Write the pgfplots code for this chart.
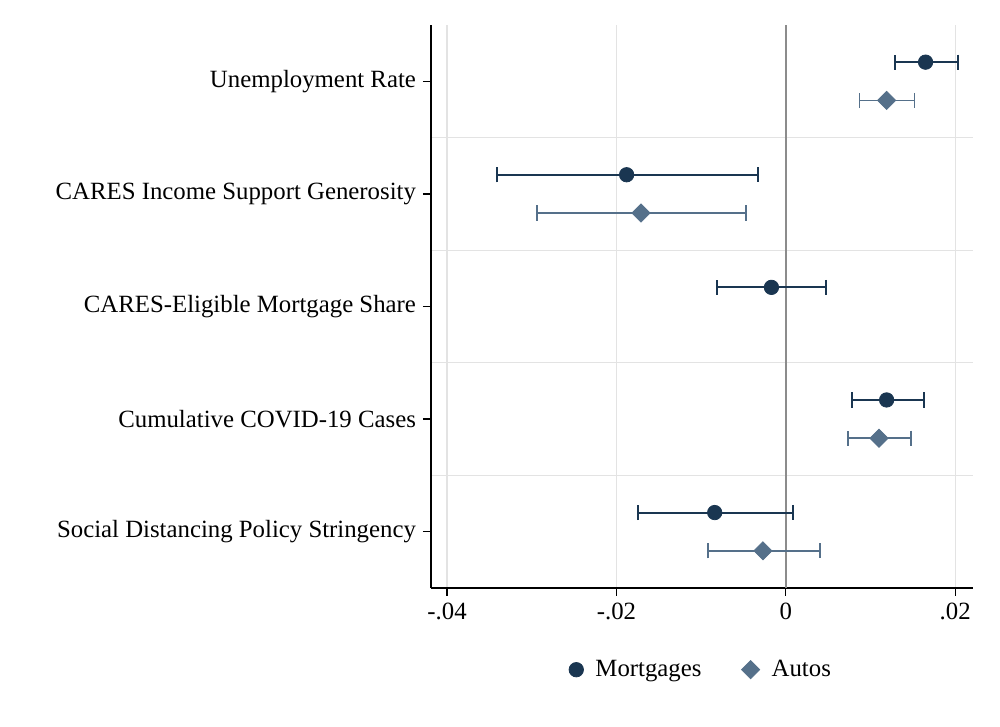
\documentclass[border=0pt]{standalone}
\usepackage{fontspec}
\setmainfont{Liberation Serif}
\usepackage{pgfplots}
\pgfplotsset{compat=1.18}
\usepackage{pgfplotstable}

\definecolor{mortc}{HTML}{1A3651}
\definecolor{autoc}{HTML}{55708A}
\definecolor{gridc}{HTML}{E3E3E3}
\definecolor{zeroc}{HTML}{8C8C8C}

% x = coefficient, y = row, ep/em = distance to upper/lower CI bound
\pgfplotstableread{
x       y     ep      em
0.0165  5.17  0.0038  0.0036
-0.0188 4.17  0.0155  0.0153
-0.0017 3.17  0.0065  0.0064
0.0119  2.17  0.0044  0.0041
-0.0084 1.17  0.0092  0.0091
}\mortgages

\pgfplotstableread{
x       y     ep      em
0.0119  4.83  0.0033  0.0032
-0.0171 3.83  0.0124  0.0123
0.0110  1.83  0.0038  0.0037
-0.0027 0.83  0.0067  0.0065
}\autos

\begin{document}
\begin{tikzpicture}[font=\fontsize{12.4}{15}\selectfont]
\begin{axis}[
  at={(0,0)}, anchor=south west,
  scale only axis,
  width=271pt, height=281.5pt,
  xmin=-0.0419, xmax=0.0221,
  ymin=0.5, ymax=5.5,
  axis x line*=bottom, axis y line*=left,
  axis line style={line width=0.8pt},
  xtick={-0.04,-0.02,0,0.02},
  xticklabels={-.04,-.02,0,.02},
  ytick={1,2,3,4,5},
  yticklabels={Social Distancing Policy Stringency, Cumulative COVID-19 Cases, CARES-Eligible Mortgage Share, CARES Income Support Generosity, Unemployment Rate},
  minor ytick={1.5,2.5,3.5,4.5},
  ymajorgrids=false, xmajorgrids=true, yminorgrids=true,
  major grid style={gridc, line width=0.6pt},
  minor grid style={gridc, line width=0.6pt},
  minor tick length=0pt,
  tick align=outside, major tick length=4pt,
  tick style={black, line width=0.6pt},
  scaled x ticks=false,
  /pgf/number format/assume math mode=true,
  tick label style={font=\fontsize{12.4}{15}\selectfont},
  legend style={at={(0.5,-0.113)}, anchor=north, draw=none, legend columns=2,
    font=\fontsize{12.4}{15}\selectfont,
    /tikz/every odd column/.append style={column sep=4pt},
    /tikz/every even column/.append style={column sep=18pt}},
  legend cell align=left,
  clip=false,
]
\addplot[forget plot, zeroc, line width=0.9pt] coordinates {(0,0.5) (0,5.5)};
\addplot[only marks, mark=*, mark size=3.6pt, color=mortc, fill=mortc,
  error bars/.cd, x dir=both, x explicit, error mark=|,
  error bar style={line width=1pt, mortc},
  error mark options={mark size=3.8pt, line width=1pt, mortc}]
  table[x=x, y=y, x error plus=ep, x error minus=em] {\mortgages};
\addplot[only marks, mark=square*, mark size=3.2pt, color=autoc, fill=autoc,
  mark options={rotate=45},
  error bars/.cd, x dir=both, x explicit, error mark=|,
  error bar style={line width=0.9pt, autoc},
  error mark options={mark size=3.8pt, line width=0.9pt, autoc}]
  table[x=x, y=y, x error plus=ep, x error minus=em] {\autos};
\legend{Mortgages, Autos}
\end{axis}
\useasboundingbox (-215.5pt,-69.5pt) rectangle (284.5pt,294pt);
\end{tikzpicture}
\end{document}
